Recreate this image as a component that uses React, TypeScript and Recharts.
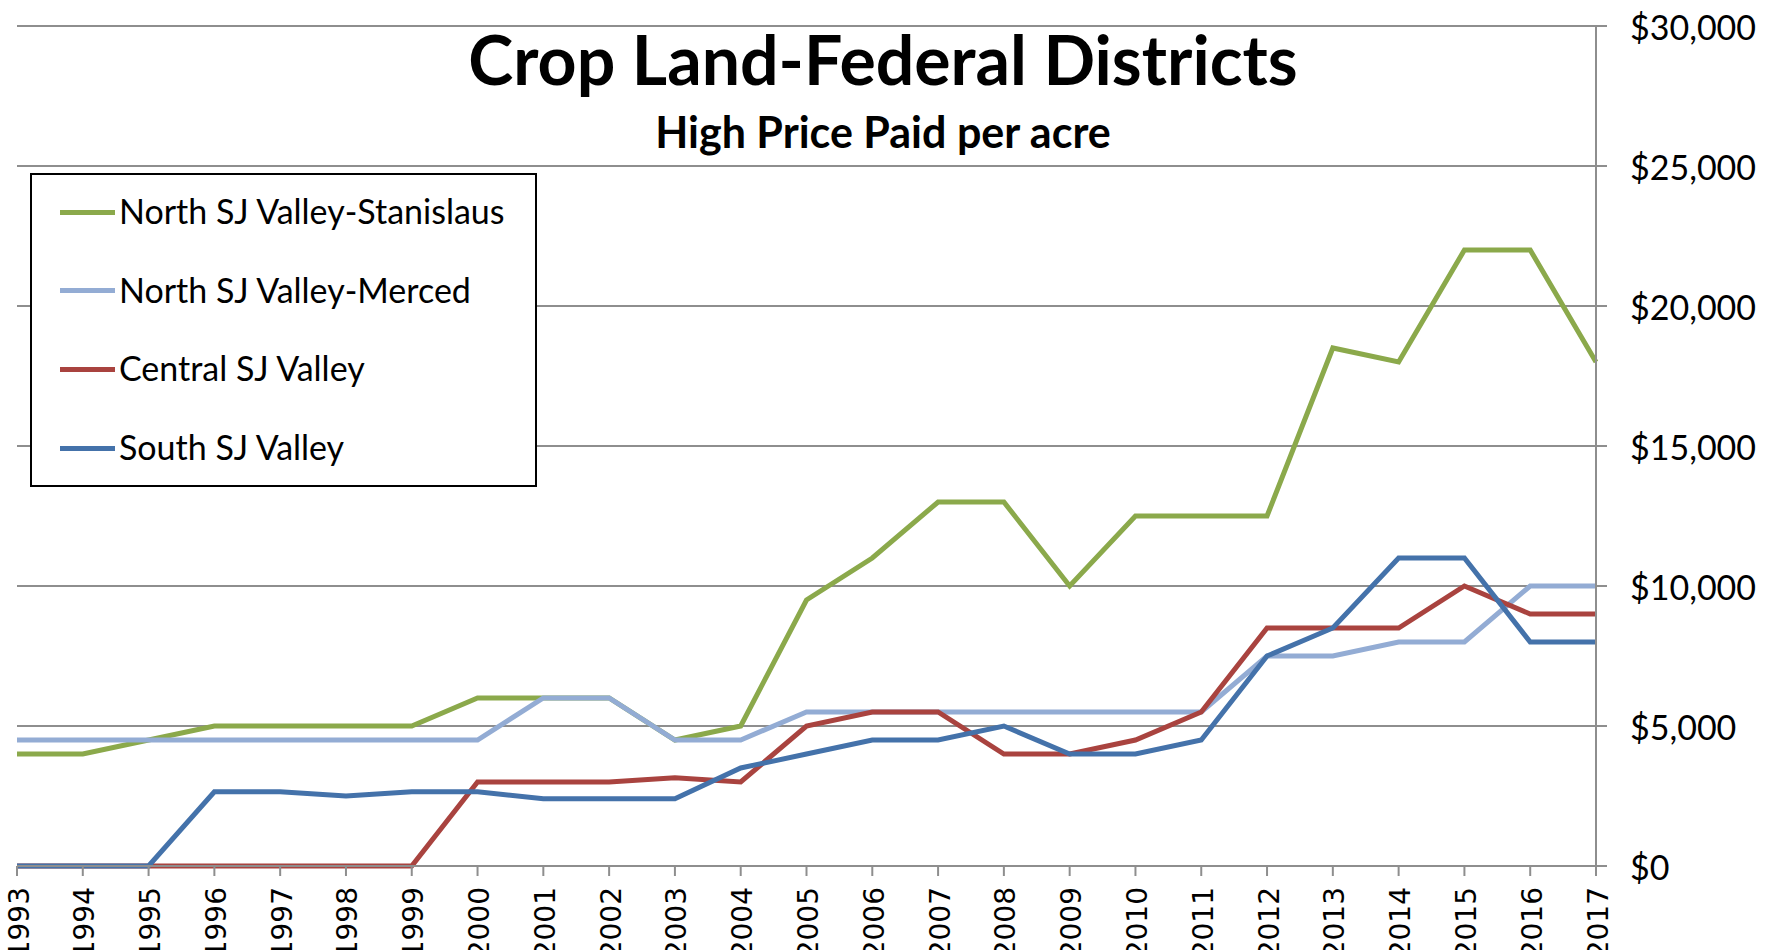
import { LineChart, Line, XAxis, YAxis, CartesianGrid, Legend } from 'recharts';

const years = [
  '1993', '1994', '1995', '1996', '1997', '1998', '1999', '2000', '2001',
  '2002', '2003', '2004', '2005', '2006', '2007', '2008', '2009', '2010',
  '2011', '2012', '2013', '2014', '2015', '2016', '2017',
];

const northStanislaus = [4000, 4000, 4500, 5000, 5000, 5000, 5000, 6000, 6000, 6000, 4500, 5000, 9500, 11000, 13000, 13000, 10000, 12500, 12500, 12500, 18500, 18000, 22000, 22000, 18000];
const northMerced = [4500, 4500, 4500, 4500, 4500, 4500, 4500, 4500, 6000, 6000, 4500, 4500, 5500, 5500, 5500, 5500, 5500, 5500, 5500, 7500, 7500, 8000, 8000, 10000, 10000];
const centralSJ = [0, 0, 0, 0, 0, 0, 0, 3000, 3000, 3000, 3150, 3000, 5000, 5500, 5500, 4000, 4000, 4500, 5500, 8500, 8500, 8500, 10000, 9000, 9000];
const southSJ = [0, 0, 0, 2650, 2650, 2500, 2650, 2650, 2400, 2400, 2400, 3500, 4000, 4500, 4500, 5000, 4000, 4000, 4500, 7500, 8500, 11000, 11000, 8000, 8000];

const priceTicks = [0, 5000, 10000, 15000, 20000, 25000, 30000];

const series = [
  { key: 'stanislaus', name: 'North SJ Valley-Stanislaus', color: '#8BA94B' },
  { key: 'merced', name: 'North SJ Valley-Merced', color: '#93ACD4' },
  { key: 'central', name: 'Central SJ Valley', color: '#A9433F' },
  { key: 'south', name: 'South SJ Valley', color: '#4472AA' },
];

const data = years.map((year, i) => ({
  year,
  stanislaus: northStanislaus[i],
  merced: northMerced[i],
  central: centralSJ[i],
  south: southSJ[i],
}));

const FONT = 'Lato, "Noto Sans", sans-serif';
const GRID = '#8E8E8E';

const fmtPrice = (v: number) => '$' + v.toLocaleString('en-US');

function YearTick(props: any) {
  const { x, y, payload } = props;
  return (
    <g transform={`translate(${x},${y})`}>
      <text
        transform="rotate(-90)"
        x={-9}
        y={2}
        textAnchor="end"
        dominantBaseline="central"
        fontFamily='"DejaVu Sans", sans-serif'
        fontSize={28}
        fill="#000"
      >
        {payload.value}
      </text>
    </g>
  );
}

function PriceTick(props: any) {
  const { x, y, payload } = props;
  return (
    <text x={x + 21} y={y} dominantBaseline="central" fontFamily={FONT} fontSize={34} fill="#000">
      {fmtPrice(payload.value)}
    </text>
  );
}

function LegendBox() {
  return (
    <div
      style={{
        position: 'relative',
        width: 507,
        height: 314,
        boxSizing: 'border-box',
        border: '2px solid #000',
        background: '#fff',
        fontFamily: FONT,
        fontSize: 34,
      }}
    >
      {series.map((s, i) => (
        <div key={s.key} style={{ position: 'absolute', left: 0, top: 37 + i * 78.7, width: '100%' }}>
          <div style={{ position: 'absolute', left: 28, top: -2.5, width: 55, height: 5, background: s.color }} />
          <div style={{ position: 'absolute', left: 87, top: -22, lineHeight: '42px', whiteSpace: 'nowrap', color: '#000' }}>
            {s.name}
          </div>
        </div>
      ))}
    </div>
  );
}

export default function App() {
  return (
    <div style={{ position: 'absolute', left: 0, top: 0, width: 1766, height: 950, background: '#fff' }}>
      <LineChart width={1766} height={950} data={data} margin={{ top: 26, right: 0, left: 17, bottom: 0 }}>
        <CartesianGrid vertical={false} stroke={GRID} strokeWidth={2} />
        <XAxis
          dataKey="year"
          interval={0}
          height={84}
          tickSize={10}
          axisLine={{ stroke: GRID, strokeWidth: 2 }}
          tickLine={{ stroke: GRID, strokeWidth: 2 }}
          tick={YearTick}
        />
        <YAxis
          orientation="right"
          domain={[0, 30000]}
          ticks={priceTicks}
          width={170}
          tickSize={11}
          axisLine={{ stroke: GRID, strokeWidth: 2 }}
          tickLine={{ stroke: GRID, strokeWidth: 2 }}
          tick={PriceTick}
        />
        <Legend
          layout="horizontal"
          verticalAlign="middle"
          content={() => <LegendBox />}
          wrapperStyle={{ left: 30, top: 173, width: 507, height: 314 }}
        />
        {series.map((s) => (
          <Line
            key={s.key}
            type="linear"
            dataKey={s.key}
            name={s.name}
            stroke={s.color}
            strokeWidth={5}
            dot={false}
            activeDot={false}
            isAnimationActive={false}
          />
        ))}
      </LineChart>
      <svg width={1766} height={950} style={{ position: 'absolute', left: 0, top: 0, pointerEvents: 'none' }}>
        <text x={883} y={85} textAnchor="middle" fontFamily={FONT} fontWeight={700} fontSize={68} fill="#000">
          Crop Land-Federal Districts
        </text>
        <text x={883} y={148} textAnchor="middle" fontFamily={FONT} fontWeight={700} fontSize={43} fill="#000">
          High Price Paid per acre
        </text>
      </svg>
    </div>
  );
}
